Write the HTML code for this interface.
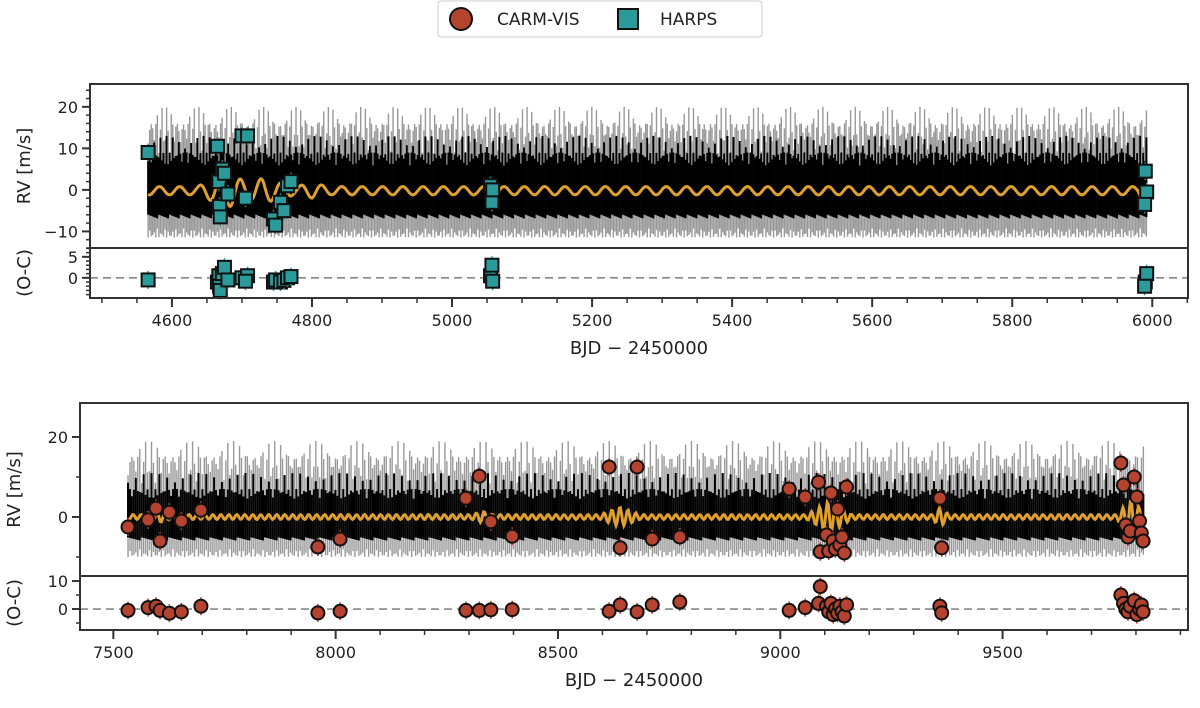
<!DOCTYPE html>
<html><head><meta charset="utf-8"><style>
body{margin:0;background:#fff;}
svg text{font-family:"DejaVu Sans","Liberation Sans",sans-serif;fill:#222;}
</style></head><body>
<svg id="fig" width="1200" height="703" viewBox="0 0 1200 703" xmlns="http://www.w3.org/2000/svg">
<g>
<rect x="438" y="1" width="324" height="36" fill="#fff" stroke="#ccc" stroke-width="1" rx="3"/>
<circle cx="461" cy="19" r="11" fill="#b5432f" stroke="#111" stroke-width="2"/>
<text x="497" y="25" font-size="17">CARM-VIS</text>
<rect x="618" y="9" width="20" height="20" fill="#2a9a9a" stroke="#111" stroke-width="2"/>
<text x="660" y="25" font-size="17">HARPS</text>
</g>
<g id="plots"></g>
</svg>
<script>
// ---- data (top panel: HARPS) ----
const harpsT=[4566,4665,4667,4668,4669,4672,4675,4680,4700,4708,4705,4745,4748,4755,4760,4765,4770,5055,5057,5058,5990,5992,5989];
const harpsRV=[9,10.5,2,-4,-6.5,5,4,-1,13,13,-2,-7,-8.5,-3,-5,1,2,1,-3,0,4.5,-0.5,-3.5];
const harpsOC=[-0.5,-1,0.5,-2,-3,1,2.5,-0.5,0,0.5,-0.8,-1,-0.5,-1,-0.6,0,0.3,0.5,3,-0.8,-1,1,-2];
// ---- data (bottom panel: CARM-VIS) ----
const carmT=[7533,7578,7596,7605,7626,7653,7697,7960,8010,8293,8323,8349,8397,8615,8640,8678,8712,8774,9020,9056,9086,9090,9104,9109,9114,9119,9124,9129,9134,9139,9144,9149,9359,9363,9766,9772,9777,9782,9787,9796,9802,9808,9812,9816];
const carmRV=[-2.5,-0.7,2.2,-6,1.2,-1,1.7,-7.5,-5.5,4.7,10.2,-1.2,-4.8,12.5,-7.7,12.5,-5.5,-5,7,5,8.7,-8.7,-4.5,-8.5,6,-6,-8,2,-7,-5,-9,7.5,4.7,-7.7,13.5,8,-2,-5,-3.5,10,5,-1,-4,-6];
const carmOC=[-0.5,0.5,1,-0.5,-1.5,-1,1,-1.4,-0.8,-0.5,-0.5,-0.3,-0.2,-0.8,1.5,-1,1.5,2.5,-0.5,0.5,2,8,1,-1,2,-2,0,-1.5,1,-1,-2.5,1.5,1,-1.4,5,2,0,-1,1,3,-2,0,1.5,-1];
// ---- tick labels ----
const topXTicks=[4600,4800,5000,5200,5400,5600,5800,6000];
const topYTicks=[20,10,0,-10];
const topRTicks=[5,0];
const botXTicks=[7500,8000,8500,9000,9500];
const botYTicks=[20,0];
const botRTicks=[10,0];

const NS="http://www.w3.org/2000/svg";
const root=document.getElementById('plots');
function el(tag,attrs,parent){const e=document.createElementNS(NS,tag);for(const k in attrs)e.setAttribute(k,attrs[k]);(parent||root).appendChild(e);return e;}

function panel(cfg){
  const g=el('g',{});
  
  
  const X=t=>cfg.x0+(t-cfg.xmin)/(cfg.xmax-cfg.xmin)*(cfg.x1-cfg.x0);
  const Y=v=>cfg.y0+(cfg.ymax-v)/(cfg.ymax-cfg.ymin)*(cfg.ym-cfg.y0);
  const R=v=>cfg.ym+(cfg.rmax-v)/(cfg.rmax-cfg.rmin)*(cfg.y1-cfg.ym);
  const band=el('g',{},g);
  
  
  let i=0;
  for(let t=cfg.bstart;t<=cfg.bend;t+=cfg.bstep){
    const ph=(i%7)/7, sp=(i%3===0)?1:0.8;
    const hi=cfg.ghi*(0.55+0.45*Math.abs(Math.sin(i*0.9)))*sp, lo=cfg.glo*(0.8+0.2*Math.abs(Math.cos(i*1.3)));
    el('line',{x1:X(t),x2:X(t),y1:Y(hi),y2:Y(lo),stroke:'#999','stroke-width':1.4},band);
    el('line',{x1:X(t),x2:X(t),y1:Y(cfg.bhi*(0.65+0.35*Math.abs(Math.sin(i*1.7)))+(i%4===0?4:0)),y2:Y(cfg.blo*(0.85+0.15*ph)),stroke:'#000','stroke-width':2},band);
    i++;
  }
  let d='';
  for(let t=cfg.bstart;t<=cfg.bend;t+=cfg.ostep){
    let a=cfg.obase;
    for(const c of cfg.clusters){const dd=Math.abs(t-c[0]);if(dd<c[1])a=Math.max(a,c[2]*(1-dd/c[1]));}
    const v=a*Math.sin(t*cfg.ofreq)+cfg.ooff;
    d+=(d?'L':'M')+X(t).toFixed(1)+','+Y(v).toFixed(1);
  }
  const ol=el('path',{d:d,fill:'none',stroke:'#e0a030','stroke-width':3},g);
  
  
  const zl=el('line',{x1:cfg.x0,x2:cfg.x1,y1:R(0),y2:R(0),stroke:'#888','stroke-width':1.6,'stroke-dasharray':'8,5'},g);
  
  
  const pts=el('g',{},g);
  
  
  for(let k=0;k<cfg.T.length;k++){
    for(const [yy,nm] of [[Y(cfg.V[k]),'rv-point'],[R(cfg.O[k]),'residual-point']]){
      el('line',{x1:X(cfg.T[k]),x2:X(cfg.T[k]),y1:yy-9,y2:yy+9,stroke:cfg.color,'stroke-width':1.5},pts);
      let m;
      if(cfg.square) m=el('rect',{x:X(cfg.T[k])-6.5,y:yy-6.5,width:13,height:13,fill:cfg.color,stroke:'#111','stroke-width':2},pts);
      else m=el('circle',{cx:X(cfg.T[k]),cy:yy,r:6.5,fill:cfg.color,stroke:'#111','stroke-width':2},pts);
      
      
    }
  }
  el('rect',{x:cfg.x0,y:cfg.y0,width:cfg.x1-cfg.x0,height:cfg.ym-cfg.y0,fill:'none',stroke:'#333','stroke-width':2},g);
  el('rect',{x:cfg.x0,y:cfg.ym,width:cfg.x1-cfg.x0,height:cfg.y1-cfg.ym,fill:'none',stroke:'#333','stroke-width':2},g);
  for(let t=Math.ceil(cfg.xmin/cfg.xminor)*cfg.xminor;t<=cfg.xmax;t+=cfg.xminor)
    el('line',{x1:X(t),x2:X(t),y1:cfg.y1,y2:cfg.y1+5,stroke:'#333','stroke-width':1.5},g);
  for(const t of cfg.xt){
    el('line',{x1:X(t),x2:X(t),y1:cfg.y1,y2:cfg.y1+9,stroke:'#333','stroke-width':2},g);
    const tx=el('text',{x:X(t),y:cfg.y1+28,'font-size':16,'text-anchor':'middle'},g);tx.textContent=t;
    
    
  }
  const xl=el('text',{x:(cfg.x0+cfg.x1)/2,y:cfg.y1+56,'font-size':18,'text-anchor':'middle'},g);xl.textContent='BJD − 2450000';
  
  
  for(let v=Math.ceil(cfg.ymin/cfg.yminor)*cfg.yminor;v<=cfg.ymax;v+=cfg.yminor)
    el('line',{x1:cfg.x0-4,x2:cfg.x0,y1:Y(v),y2:Y(v),stroke:'#333','stroke-width':1.5},g);
  for(const v of cfg.yt){
    el('line',{x1:cfg.x0-8,x2:cfg.x0,y1:Y(v),y2:Y(v),stroke:'#333','stroke-width':2},g);
    const tx=el('text',{x:cfg.x0-12,y:Y(v)+6,'font-size':16,'text-anchor':'end'},g);tx.textContent=v<0?'−'+(-v):v;
    
    
  }
  for(let v=Math.ceil(cfg.rmin/cfg.rminor)*cfg.rminor;v<=cfg.rmax;v+=cfg.rminor)
    el('line',{x1:cfg.x0-4,x2:cfg.x0,y1:R(v),y2:R(v),stroke:'#333','stroke-width':1.5},g);
  for(const v of cfg.rt){
    el('line',{x1:cfg.x0-8,x2:cfg.x0,y1:R(v),y2:R(v),stroke:'#333','stroke-width':2},g);
    const tx=el('text',{x:cfg.x0-12,y:R(v)+6,'font-size':16,'text-anchor':'end'},g);tx.textContent=v;
    
    
  }
  const yl=el('text',{x:0,y:0,'font-size':18,'text-anchor':'middle',transform:`translate(${cfg.ylx},${(cfg.y0+cfg.ym)/2}) rotate(-90)`},g);yl.textContent='RV [m/s]';
  
  
  const rl=el('text',{x:0,y:0,'font-size':18,'text-anchor':'middle',transform:`translate(${cfg.ylx},${(cfg.ym+cfg.y1)/2}) rotate(-90)`},g);rl.textContent='(O-C)';
  
  
}

panel({name:'harps-panel',x0:90,x1:1188,y0:84,ym:248,y1:298,xmin:4483,xmax:6051,ymin:-14,ymax:25.5,rmin:-4.8,rmax:7.1,
  xt:topXTicks,yt:topYTicks,rt:topRTicks,xminor:50,yminor:2,rminor:1,ylx:30,
  bstart:4566,bend:5992,bstep:2.2,ghi:20,glo:-11.5,bhi:9,blo:-7,ostep:1.5,ofreq:0.217,ooff:-0.2,obase:1,
  clusters:[[4680,60,4],[4730,70,3],[4800,60,1.8],[5985,15,2]],
  T:harpsT,V:harpsRV,O:harpsOC,color:'#2a9a9a',square:true});
panel({name:'carm-panel',x0:80,x1:1188,y0:403,ym:576,y1:630,xmin:7425,xmax:9917,ymin:-14.75,ymax:28.5,rmin:-7.5,rmax:11.8,
  xt:botXTicks,yt:botYTicks,rt:botRTicks,xminor:100,yminor:10,rminor:5,ylx:20,
  bstart:7533,bend:9818,bstep:4.4,ghi:19,glo:-10,bhi:7,blo:-6,ostep:2.5,ofreq:0.35,ooff:0,obase:0.6,
  clusters:[[7600,50,1.5],[8330,40,1.5],[8640,60,2.5],[9110,60,4],[9360,25,2.5],[9790,40,4.5]],
  T:carmT,V:carmRV,O:carmOC,color:'#b5432f',square:false});
</script>
</body></html>
